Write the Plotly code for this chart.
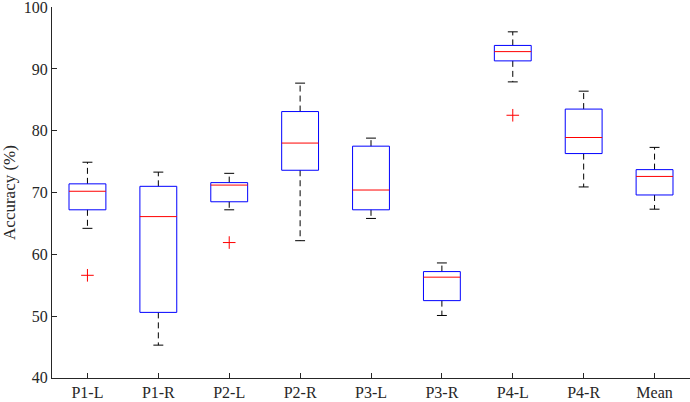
import plotly.graph_objects as go

categories = ["P1-L", "P1-R", "P2-L", "P2-R", "P3-L", "P3-R", "P4-L", "P4-R", "Mean"]
upper_whisker = [74.9, 73.3, 73.1, 87.7, 78.8, 58.6, 96.0, 86.4, 77.3]
q3 = [71.4, 71.0, 71.6, 83.1, 77.5, 57.2, 93.8, 83.5, 73.7]
median = [70.2, 66.1, 71.2, 78.0, 70.4, 56.3, 92.8, 78.9, 72.6]
q1 = [67.2, 50.6, 68.5, 73.6, 67.2, 52.5, 91.3, 76.3, 69.6]
lower_whisker = [64.2, 45.3, 67.2, 62.2, 65.8, 50.1, 87.9, 70.9, 67.3]
outliers = {"P1-L": [56.6], "P2-L": [61.9], "P4-L": [82.5]}
y_ticks = [40, 50, 60, 70, 80, 90, 100]

BOX_HALF = 0.26
CAP_HALF = 0.07

fig = go.Figure()

bx, by, mx, my, wx, wy, cx, cy = [], [], [], [], [], [], [], []
for i, c in enumerate(categories):
    x = i + 1
    bx += [x - BOX_HALF, x + BOX_HALF, x + BOX_HALF, x - BOX_HALF, x - BOX_HALF, None]
    by += [q1[i], q1[i], q3[i], q3[i], q1[i], None]
    mx += [x - BOX_HALF, x + BOX_HALF, None]
    my += [median[i], median[i], None]
    wx += [x, x, None, x, x, None]
    wy += [q3[i], upper_whisker[i], None, q1[i], lower_whisker[i], None]
    cx += [x - CAP_HALF, x + CAP_HALF, None, x - CAP_HALF, x + CAP_HALF, None]
    cy += [upper_whisker[i], upper_whisker[i], None, lower_whisker[i], lower_whisker[i], None]

fig.add_trace(go.Scatter(x=wx, y=wy, mode="lines",
                         line=dict(color="black", width=1, dash="6px,4px"),
                         hoverinfo="skip", showlegend=False))
fig.add_trace(go.Scatter(x=cx, y=cy, mode="lines",
                         line=dict(color="black", width=1),
                         hoverinfo="skip", showlegend=False))
fig.add_trace(go.Scatter(x=bx, y=by, mode="lines",
                         line=dict(color="#0000ff", width=1),
                         hoverinfo="skip", showlegend=False))
fig.add_trace(go.Scatter(x=mx, y=my, mode="lines",
                         line=dict(color="#ff0000", width=1),
                         hoverinfo="skip", showlegend=False))

ox, oy = [], []
for c, vals in outliers.items():
    for v in vals:
        ox.append(categories.index(c) + 1)
        oy.append(v)
fig.add_trace(go.Scatter(x=ox, y=oy, mode="markers",
                         marker=dict(symbol="cross-thin", size=9,
                                     line=dict(color="#ff0000", width=1)),
                         showlegend=False))

axis_color = "#262626"
serif = "Liberation Serif"
fig.update_layout(
    template="none",
    width=690, height=402,
    margin=dict(l=52, r=0, t=7, b=24),
    paper_bgcolor="white", plot_bgcolor="white",
    font=dict(family=serif, size=16, color=axis_color),
    xaxis=dict(range=[0.5, 9.5], tickvals=list(range(1, len(categories) + 1)),
               ticktext=categories, showgrid=False, zeroline=False,
               showline=True, linecolor=axis_color, linewidth=1,
               ticks="inside", ticklen=5, tickcolor=axis_color,
               automargin=False, tickfont=dict(family=serif, size=16)),
    yaxis=dict(range=[39.98, 100.02], tickvals=y_ticks,
               showgrid=False, zeroline=False,
               showline=True, linecolor=axis_color, linewidth=1,
               ticks="inside", ticklen=5, tickcolor=axis_color,
               automargin=False, ticklabeloverflow="allow",
               tickfont=dict(family=serif, size=16),
               title=dict(text="Accuracy (%)", standoff=4,
                          font=dict(family=serif, size=17))),
)

fig.write_html("out.html", config={"displayModeBar": False},
               post_script="document.body.style.margin='0';document.body.style.overflow='hidden';")
